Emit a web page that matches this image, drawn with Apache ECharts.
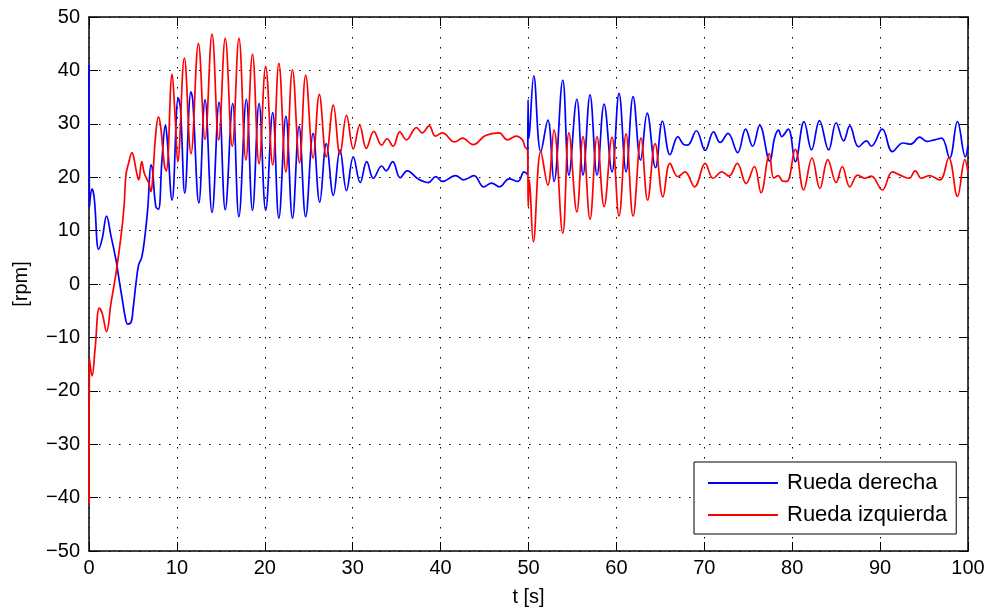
<!DOCTYPE html>
<html>
<head>
<meta charset="utf-8">
<script src="https://cdn.jsdelivr.net/npm/echarts@6/dist/echarts.min.js"></script>
<style>
html,body{margin:0;padding:0;background:#fff;}
#chart{width:994px;height:615px;}
</style>
</head>
<body>
<div id="chart"></div>
<script>
// ---- data ----
const seriesNames = ['Rueda derecha', 'Rueda izquierda'];
const xTicks = [0,10,20,30,40,50,60,70,80,90,100];
const yTicks = [-50,-40,-30,-20,-10,0,10,20,30,40,50];

const tDerecha = [0,0.05,0.35,0.6,1.1,1.5,2.0,2.5,3.07,3.5,3.8,4.1,4.4,4.8,5.0,5.35,5.65,6.0,6.4,6.7,7.05,7.2,7.6,7.9,8.3,8.7,8.9,9.45,10.16,10.4,10.9,11.6,11.8,12.5,13.2,14.0,14.8,15.5,16.35,17.05,17.9,18.6,19.35,20.1,20.9,21.6,22.4,23.15,23.9,24.65,25.5,26.25,27.0,27.8,28.55,29.3,30.07,30.85,31.6,32.35,33.3,33.8,34.55,35.4,36.2,37.5,38.6,39.45,40.2,41.7,42.6,43.8,44.9,45.8,46.7,47.8,48.8,49.5,49.9,49.95,50.05,50.6,51.4,52.2,52.9,53.9,54.6,55.5,56.2,57.0,57.8,58.6,59.5,60.3,61.1,61.9,62.75,63.5,64.45,65.25,66.1,67.0,67.6,68.1,69.1,70.1,71.05,71.8,72.7,73.8,74.7,75.5,76.3,77.45,78.0,78.45,78.8,79.55,80.35,81.35,82.2,83.1,84.15,85.0,85.85,86.55,87.55,88.45,89.0,90.25,91.4,92.6,93.5,94.5,95.3,96.2,97.0,97.9,98.8,99.7,100];
const vDerecha = [41,14.5,17.8,16,6.5,8.5,12.7,9,4.5,0,-3,-6,-7.5,-7.1,-4.9,0.2,3.6,5,9.5,14.5,22.3,21.7,14.5,14,23.2,29.8,27,15.7,34.8,33,17,36,34.5,15.2,34.5,13.4,34,13.9,33.8,12.6,34.6,13.8,33.8,13.8,32.1,12.3,31.4,12.3,29.5,12.6,28.2,15.3,26.3,16.6,25.1,17.5,23.8,19,22.9,19.8,22.1,21.2,22.9,19.9,21.2,19.6,19,20.1,19.2,20.3,19.5,20.3,18.2,18.9,18.2,19.7,19.2,21,20.5,34.5,27.3,39,24.8,30.7,19.2,38.2,20.4,34.6,20.4,35.4,20.4,33.7,21,35.7,21,35.1,23.2,32,21.8,30.5,24.2,27.6,26.2,26,28.7,25,28.5,26.5,28.2,24.6,29,25.8,29.7,23,27.4,28.8,27.6,29,22.9,30.4,25.1,30.6,25.1,30.2,26.8,29.6,25.7,26.8,25.8,29,24.8,26.4,26.2,27.5,26.7,27,27.3,23.6,30.4,23.8,26];

const tIzquierda = [0,0.05,0.35,0.7,1.17,1.5,2.0,2.5,3.07,3.64,4.0,4.2,4.5,4.9,5.15,5.4,5.65,6.0,6.3,6.8,7.05,7.2,7.6,7.9,8.15,8.6,8.8,9.45,9.8,10.1,10.85,11.6,12.45,13.2,14.0,14.75,15.5,16.3,17.06,17.85,18.6,19.35,20.1,20.9,21.6,22.4,23.15,23.95,24.65,25.5,26.2,27.0,27.8,28.55,29.3,30.07,30.8,31.55,32.4,33.3,33.9,34.6,35.35,36.1,37.25,37.9,38.7,39.4,40.2,41.6,42.5,43.7,45.1,46.65,47.6,48.6,49.3,49.6,49.9,49.97,50.1,50.55,51.4,52.2,52.9,53.9,54.6,55.5,56.2,57.0,57.8,58.6,59.5,60.3,61.1,61.9,62.8,63.55,64.4,65.3,66.1,67.0,67.8,68.9,70.1,71.0,72.0,72.8,73.75,74.75,75.7,76.45,77.4,77.9,78.4,78.9,79.4,80.35,81.3,82.25,83.15,84.05,85.0,85.7,86.55,87.45,88.3,89.0,90.25,91.4,92.4,93.3,94.0,94.7,95.6,96.8,97.8,98.8,99.65,100];
const vIzquierda = [-41,-14,-17.2,-12,-4.5,-5.5,-8.9,-3.6,2,8.9,14.8,20.4,22.6,24.6,23.2,21,19.5,22.9,20.7,18.9,17.3,18.9,28.2,31.3,29.5,22,21.2,39.3,31.3,22.9,42.3,24.4,45,27.1,46.8,27,46,25.8,46,23.2,43,22.5,40.7,22.3,41.3,21,40.1,22.7,39.1,23.6,35.5,23.8,33.5,24.3,31.6,25.3,29.7,25.4,28.6,26,27.2,25.8,28.5,27,29.3,28.3,29.6,27.7,28.3,26.6,27.3,26.1,27.8,28.3,27,27.7,27,25.7,25,14.5,19.5,7.9,24.8,18.5,28.8,9.5,28.3,13.5,27.6,12.1,27.6,14.5,27.5,12.7,28.1,12.7,27.3,15.7,26.3,16.3,22.6,20.1,21,18.2,22.6,19.8,21,20.2,22.6,18.8,22,17.1,24.4,19.8,20.3,19.3,19.2,25.2,17.6,23.6,17.9,23.3,19,22,18.2,20.4,19.8,20.2,17.6,21,20.3,19.8,21.2,19.8,20.3,19.5,23.6,16.4,23.3,21];

// ---- chart ----
const FONT = '"Liberation Sans", Arial, Helvetica, sans-serif';
const zip = (a, b) => a.map((t, i) => [t, b[i]]);
const minusFmt = v => (v < 0 ? '\u2212' + Math.abs(v) : String(v));

const chart = echarts.init(document.getElementById('chart'), null, {renderer: 'canvas'});

const gridLine = {show: true, lineStyle: {color: '#000', width: 1, type: [1.5, 8.5]}};
const tickInside = {show: true, inside: true, length: 9, lineStyle: {color: '#000', width: 1}};
const frame = {show: true, onZero: false, lineStyle: {color: '#000', width: 1.5}};

chart.setOption({
  animation: false,
  backgroundColor: '#fff',
  grid: {left: 89, right: 26, top: 17, bottom: 64, containLabel: false},
  xAxis: [
    {type: 'value', min: xTicks[0], max: xTicks[xTicks.length-1], interval: 10, position: 'bottom',
     name: 't [s]', nameLocation: 'middle', nameGap: 36,
     nameTextStyle: {fontFamily: FONT, fontSize: 20, color: '#000'},
     axisLine: frame, axisTick: tickInside, splitLine: gridLine,
     axisLabel: {fontFamily: FONT, fontSize: 20, color: '#000', margin: 7, formatter: minusFmt}},
    {type: 'value', min: xTicks[0], max: xTicks[xTicks.length-1], interval: 10, position: 'top',
     axisLine: frame, axisTick: tickInside, splitLine: {show: false}, axisLabel: {show: false}}
  ],
  yAxis: [
    {type: 'value', min: yTicks[0], max: yTicks[yTicks.length-1], interval: 10, position: 'left',
     name: '[rpm]', nameLocation: 'middle', nameGap: 58,
     nameTextStyle: {fontFamily: FONT, fontSize: 20, color: '#000'},
     axisLine: frame, axisTick: tickInside, splitLine: gridLine,
     axisLabel: {fontFamily: FONT, fontSize: 20, color: '#000', margin: 9, formatter: minusFmt}},
    {type: 'value', min: yTicks[0], max: yTicks[yTicks.length-1], interval: 10, position: 'right',
     axisLine: frame, axisTick: tickInside, splitLine: {show: false}, axisLabel: {show: false}}
  ],
  legend: {
    orient: 'vertical', left: 694, top: 462,
    padding: [10, 9, 8, 14], itemGap: 10,
    itemWidth: 70, itemHeight: 2, icon: 'rect',
    borderColor: '#000', borderWidth: 1, backgroundColor: '#fff',
    textStyle: {fontFamily: FONT, fontSize: 22, color: '#000', padding: [0, 0, 0, 4]},
    data: seriesNames
  },
  series: [
    {name: seriesNames[0], type: 'line', data: zip(tDerecha, vDerecha), symbol: 'none', smooth: 0.4,
     lineStyle: {color: '#0000ff', width: 1.7}, itemStyle: {color: '#0000ff'}, z: 3},
    {name: seriesNames[1], type: 'line', data: zip(tIzquierda, vIzquierda), symbol: 'none', smooth: 0.4,
     lineStyle: {color: '#ff0000', width: 1.7}, itemStyle: {color: '#ff0000'}, z: 3}
  ]
});
</script>
</body>
</html>
